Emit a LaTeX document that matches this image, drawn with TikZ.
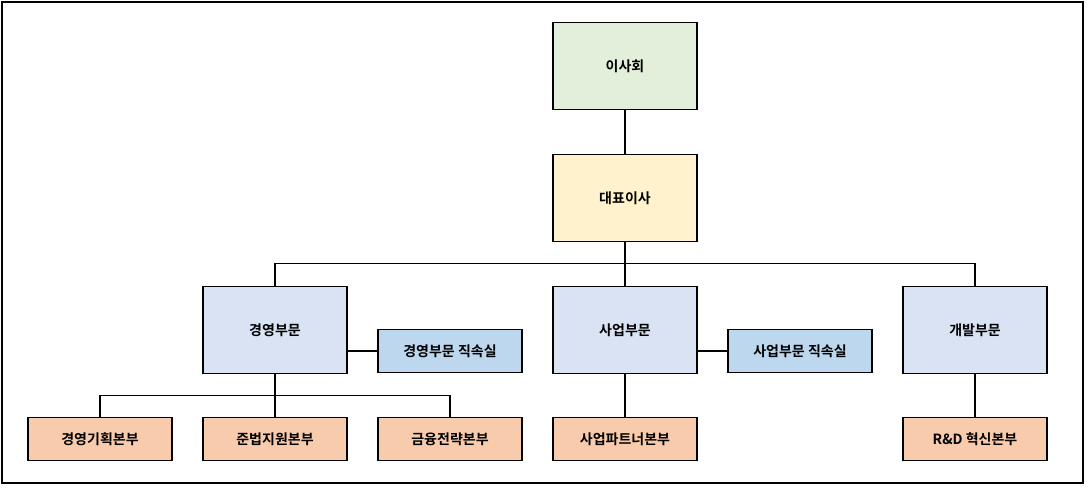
\documentclass[tikz,border=0pt]{standalone}
\usepackage{fontspec}
\newfontfamily\kr{Noto Sans CJK KR}[BoldFont={* Bold}]
\definecolor{cgreen}{HTML}{E2EFDA}
\definecolor{cyellow}{HTML}{FFF2CC}
\definecolor{clav}{HTML}{DAE3F3}
\definecolor{cblue}{HTML}{BDD7EE}
\definecolor{corange}{HTML}{F8CBAD}
\begin{document}
\begin{tikzpicture}[x=0.75pt,y=-0.75pt,
  box/.style={draw=black,line width=0.8pt,minimum width=108pt,font=\kr\bfseries\fontsize{10.5}{12}\selectfont,inner sep=0pt},
  tall/.style={box,minimum height=65pt},
  short/.style={box,minimum height=32.5pt},
  ln/.style={line width=0.8pt}]
\useasboundingbox (0,0) rectangle (1089,494);
\draw[line width=1.2pt] (2,2) rectangle (1083,483);
\node[tall,fill=cgreen] (board) at (625,66) {이사회};
\node[tall,fill=cyellow] (ceo) at (625,198) {대표이사};
\node[tall,fill=clav] (mgmt) at (275,330) {경영부문};
\node[tall,fill=clav] (biz) at (625,330) {사업부문};
\node[tall,fill=clav] (dev) at (975,330) {개발부문};
\node[short,fill=cblue] (mo) at (450,351) {경영부문 직속실};
\node[short,fill=cblue] (bo) at (800,351) {사업부문 직속실};
\node[short,fill=corange] (b1) at (100,439) {경영기획본부};
\node[short,fill=corange] (b2) at (275,439) {준법지원본부};
\node[short,fill=corange] (b3) at (450,439) {금융전략본부};
\node[short,fill=corange] (b4) at (625,439) {사업파트너본부};
\node[short,fill=corange] (b5) at (975,439) {R\&D 혁신본부};
\draw[ln] (board) -- (ceo);
\draw[ln] (ceo.south) -- ++(0,22) coordinate (bus);
\draw[ln] (mgmt.north) |- (bus) -| (dev.north);
\draw[ln] (bus) -- (biz.north);
\draw[ln] (mgmt.east |- mo) -- (mo.west);
\draw[ln] (biz.east |- bo) -- (bo.west);
\draw[ln] (mgmt.south) -- (b2.north);
\draw[ln] (b1.north) -- ++(0,-21) coordinate (sb) -| (b3.north);
\draw[ln] (biz) -- (b4);
\draw[ln] (dev) -- (b5);
\end{tikzpicture}
\end{document}
